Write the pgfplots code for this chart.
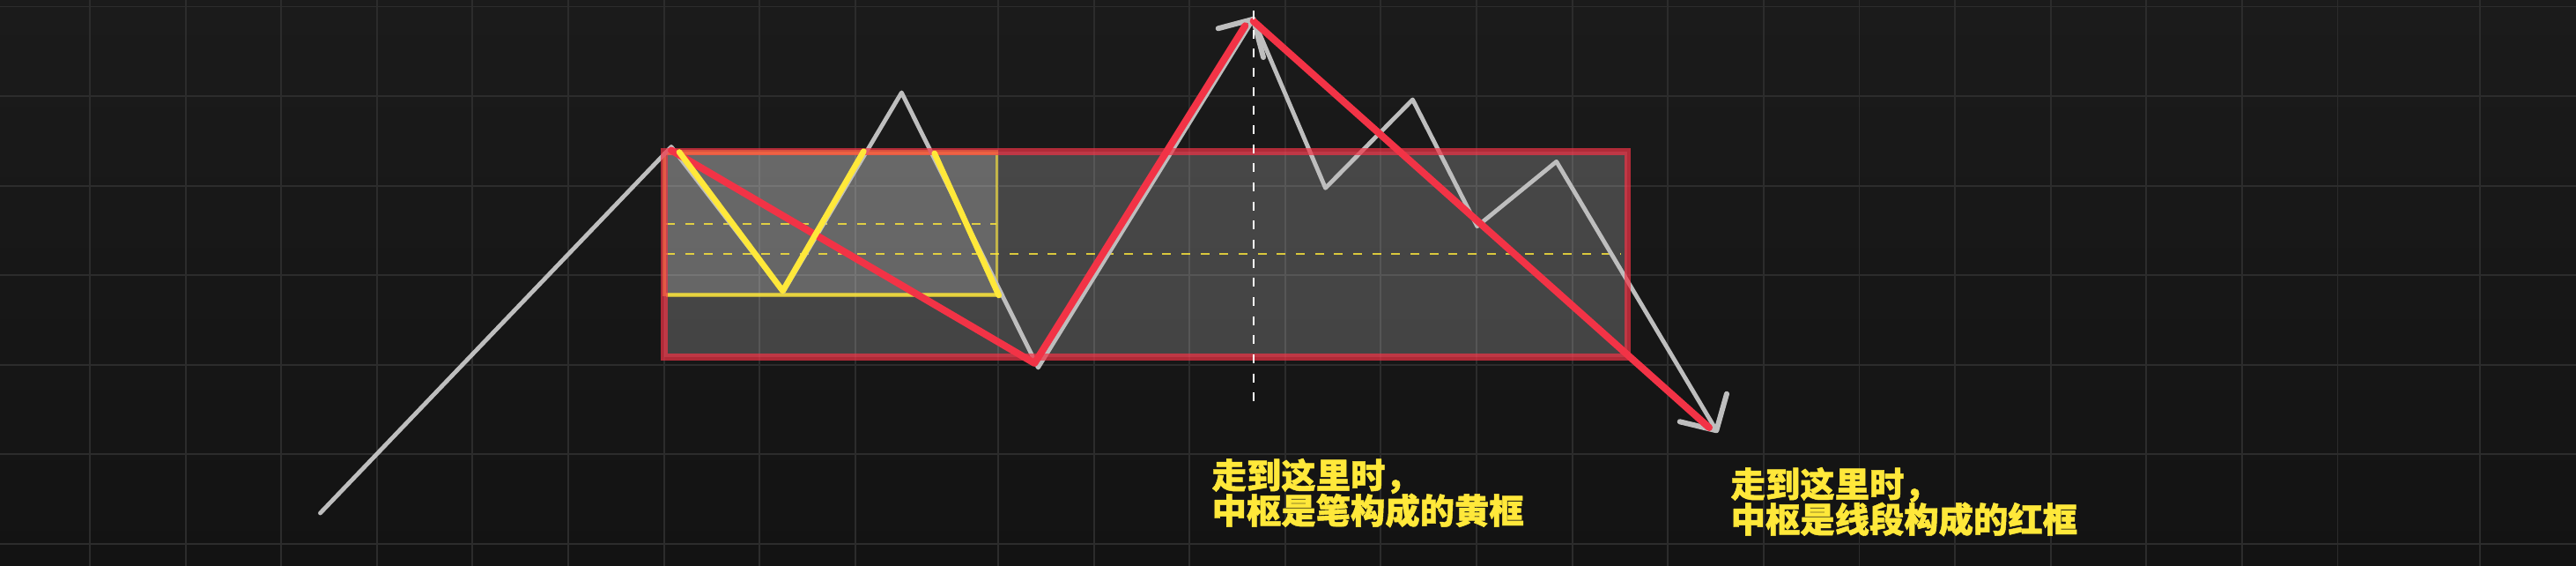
\documentclass[border=0pt]{standalone}
\usepackage{pgfplots}
\pgfplotsset{compat=1.18}
\usepackage{fontspec}
\newfontfamily\cjk{Noto Sans CJK SC}[BoldFeatures={FakeBold=1.2}]
\definecolor{bgtop}{HTML}{1B1B1B}
\definecolor{bgbot}{HTML}{131313}
\definecolor{gridc}{HTML}{2C2C2C}
\definecolor{grayl}{HTML}{BEBEBE}
\definecolor{redl}{HTML}{F23346}
\definecolor{yell}{HTML}{FFE83A}
\begin{document}
\begin{tikzpicture}
\begin{axis}[
  scale only axis, width=877.2pt, height=192.6pt,
  xmin=0, xmax=2924, ymin=0, ymax=642, y dir=reverse,
  enlargelimits=false,
  axis background/.style={top color=bgtop, bottom color=bgbot},
  axis line style={draw=none}, tick style={draw=none},
  xticklabels={}, yticklabels={},
  xtick={102,210.6,319.2,427.8,536.4,645,753.6,862.2,970.8,1133,1241.6,1350.2,1458.8,1567.4,1676,1784.6,1893.2,2001.8,2110.4,2219,2327.6,2436.2,2544.8,2653.4,2815},
  ytick={7.5,109,211,312,414,515,617},
  grid=major, major grid style={color=gridc, line width=0.55pt},
  line cap=round, line join=round,
]
% red box fill
\addplot[draw=none, fill=white, fill opacity=0.2] coordinates {(754,172) (1847,172) (1847,405) (754,405)} -- cycle;
% yellow box fill
\addplot[draw=none, fill=white, fill opacity=0.18] coordinates {(754,174) (1131.5,174) (1131.5,334.8) (754,334.8)} -- cycle;
% yellow box border
\addplot[draw=yell, draw opacity=0.62, line width=1.0pt, line cap=butt, line join=miter] coordinates {(754,174) (1131.8,174) (1131.8,334.8) (754,334.8)} -- cycle;
\addplot[draw=yell, draw opacity=0.62, line width=1.6pt, line cap=butt] coordinates {(756,334.3) (1133.3,334.3)};
\addplot[draw=yell, draw opacity=0.62, line width=1.6pt, line cap=butt] coordinates {(756,172.5) (1133.3,172.5)};
% dashed yellow lines
\addplot[draw=yell, draw opacity=0.8, line width=0.6pt, line cap=butt, dash pattern=on 3pt off 3.5pt] coordinates {(756,254) (1131,254)};
\addplot[draw=yell, draw opacity=0.8, line width=0.6pt, line cap=butt, dash pattern=on 3pt off 3.5pt] coordinates {(756,287.7) (1840,287.7)};
% gray price line
\addplot[draw=grayl, line width=1.45pt] coordinates {(363.5,582) (762,166.5) (889,331) (1023.4,105) (1178.4,417) (1422.7,21.7) (1504.5,213.3) (1603.5,113) (1676.7,256.7) (1766.7,183.3) (1948.3,488.3)};
% gray arrow heads
\addplot[draw=grayl, line width=1.8pt] coordinates {(1382.7,32.3) (1422.7,21.7) (1434,65)};
\addplot[draw=grayl, line width=1.8pt] coordinates {(1906.7,478.3) (1948.3,488.3) (1960,446.7)};
% red box border
\addplot[draw=redl, draw opacity=0.7, line width=2.35pt, line cap=butt, line join=miter] coordinates {(754,172) (1847.5,172) (1847.5,405) (754,405)} -- cycle;
% red segments
\addplot[draw=redl, line width=2.4pt] coordinates {(762,170.5) (1174.3,412) (1413.3,29.3)};
\addplot[draw=redl, line width=2.4pt] coordinates {(1422.7,24) (1940,485)};
% yellow strokes
\addplot[draw=yell, line width=2pt] coordinates {(771,172.5) (888.5,330) (980.3,171.7)};
\addplot[draw=yell, line width=2pt] coordinates {(1060.7,174) (1133.7,335)};
% white dashed vertical
\addplot[draw=white, line width=0.55pt, line cap=butt, dash pattern=on 3pt off 3.5pt] coordinates {(1422.8,12) (1422.8,462)};
% texts
\node[anchor=base west, inner sep=0pt, text=yell, font=\cjk\bfseries\fontsize{11.8}{11.8}\selectfont] at (axis cs:1375,554) {走到这里时，};
\node[anchor=base west, inner sep=0pt, text=yell, font=\cjk\bfseries\fontsize{11.8}{11.8}\selectfont] at (axis cs:1375,594) {中枢是笔构成的黄框};
\node[anchor=base west, inner sep=0pt, text=yell, font=\cjk\bfseries\fontsize{11.8}{11.8}\selectfont] at (axis cs:1964,564) {走到这里时，};
\node[anchor=base west, inner sep=0pt, text=yell, font=\cjk\bfseries\fontsize{11.8}{11.8}\selectfont] at (axis cs:1964,604) {中枢是线段构成的红框};
\end{axis}
\pgfresetboundingbox
\useasboundingbox (current axis.south west) rectangle (current axis.north east);
\end{tikzpicture}
\end{document}
